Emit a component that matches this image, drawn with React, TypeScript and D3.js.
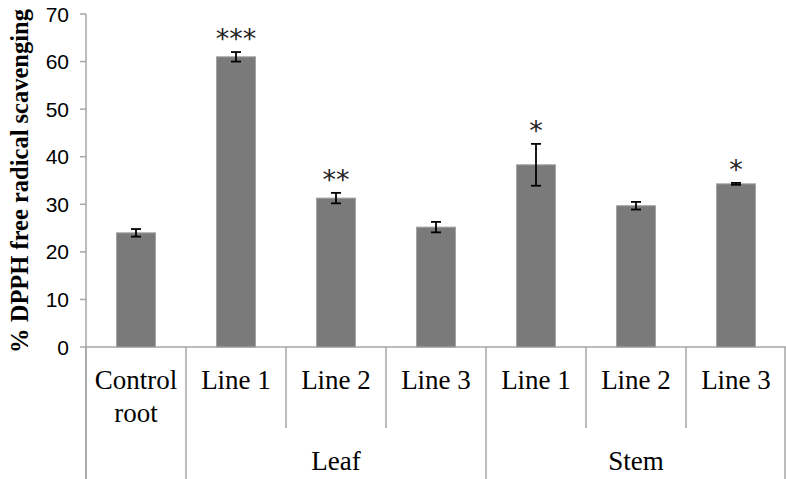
import React from "react";
import * as d3 from "d3";

const categories = ["Control root", "Leaf Line 1", "Leaf Line 2", "Leaf Line 3", "Stem Line 1", "Stem Line 2", "Stem Line 3"];
const tickLines = [["Control", "root"], ["Line 1"], ["Line 2"], ["Line 3"], ["Line 1"], ["Line 2"], ["Line 3"]];
const values = [24.0, 61.0, 31.3, 25.2, 38.3, 29.7, 34.3];
const errors = [0.8, 1.0, 1.1, 1.1, 4.4, 0.8, 0.2];
const stars = ["", "***", "**", "", "*", "", "*"];
const groups = [
  { label: "Leaf", from: 1, to: 3 },
  { label: "Stem", from: 4, to: 6 },
];
const yTicks = [0, 10, 20, 30, 40, 50, 60, 70];

export default function App() {
  const W = 786, H = 479;
  const left = 86, right = 786, top = 14, bottom = 347;
  const x = d3.scaleBand<string>().domain(categories).range([left, right]).padding(0);
  const y = d3.scaleLinear().domain([0, 70]).range([bottom, top]);
  const bw = x.bandwidth();
  const barW = 39;
  const axisColor = "#a6a6a6";
  const serif = "Liberation Serif, Times New Roman, serif";
  return (
    <svg width={W} height={H} style={{ position: "absolute", left: 0, top: 0 }}>
      <rect width={W} height={H} fill="#fff" />
      {/* y axis */}
      <line x1={left} x2={left} y1={top} y2={H} stroke={axisColor} strokeWidth={1.5} />
      {yTicks.map((t) => (
        <g key={t}>
          <line x1={left - 6} x2={left} y1={y(t)} y2={y(t)} stroke={axisColor} strokeWidth={1.5} />
          <text x={left - 17} y={y(t)} dy="0.36em" textAnchor="end" fontFamily="Liberation Sans, Arial, sans-serif" fontSize={21} fill="#000">{t}</text>
        </g>
      ))}
      {/* baseline */}
      <line x1={left} x2={right} y1={bottom} y2={bottom} stroke={axisColor} strokeWidth={1.5} />
      {/* bars */}
      {categories.map((c, i) => {
        const cx = (x(c) as number) + bw / 2;
        return (
          <g key={c}>
            <rect x={cx - barW / 2} y={y(values[i])} width={barW} height={bottom - y(values[i])} fill="#7a7a7a" stroke="#a3a3a3" strokeWidth={1} />
            <line x1={cx} x2={cx} y1={y(values[i] + errors[i])} y2={y(values[i] - errors[i])} stroke="#000" strokeWidth={1.8} />
            <line x1={cx - 5} x2={cx + 5} y1={y(values[i] + errors[i])} y2={y(values[i] + errors[i])} stroke="#000" strokeWidth={1.8} />
            <line x1={cx - 5} x2={cx + 5} y1={y(values[i] - errors[i])} y2={y(values[i] - errors[i])} stroke="#000" strokeWidth={1.8} />
            {stars[i] && (
              <text x={cx} y={y(values[i] + errors[i]) - 4} textAnchor="middle" fontFamily="DejaVu Sans, sans-serif" fontSize={27} fill="#222">{stars[i]}</text>
            )}
          </g>
        );
      })}
      {/* category separators */}
      {categories.map((c, i) => {
        const xl = x(c) as number;
        const long = i === 0 || i === 1 || i === 4;
        return <line key={"sep" + i} x1={xl} x2={xl} y1={bottom} y2={long ? H : 428} stroke={axisColor} strokeWidth={1.5} />;
      })}
      <line x1={right - 1} x2={right - 1} y1={bottom} y2={H} stroke={axisColor} strokeWidth={1.5} />
      {/* tick labels */}
      {categories.map((c, i) => {
        const cx = (x(c) as number) + bw / 2;
        return (
          <text key={"lbl" + i} x={cx} fontFamily={serif} fontSize={27} textAnchor="middle" fill="#000">
            {tickLines[i].map((l, j) => (
              <tspan key={j} x={cx} y={389 + j * 33}>{l}</tspan>
            ))}
          </text>
        );
      })}
      {groups.map((g) => {
        const cx = ((x(categories[g.from]) as number) + (x(categories[g.to]) as number) + bw) / 2;
        return (
          <text key={g.label} x={cx} y={470} textAnchor="middle" fontFamily={serif} fontSize={27} fill="#000">{g.label}</text>
        );
      })}
      {/* y title */}
      <text transform={`translate(28, 181) rotate(-90)`} textAnchor="middle" fontFamily={serif} fontWeight="bold" fontSize={24.5} fill="#000">% DPPH free radical scavenging</text>
    </svg>
  );
}
